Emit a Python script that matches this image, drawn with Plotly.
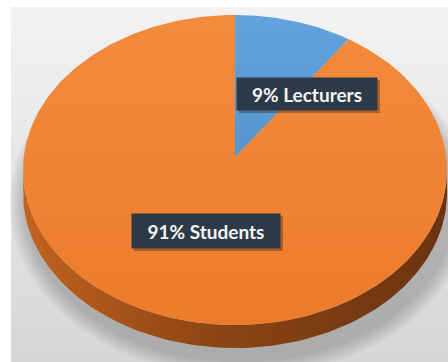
import numpy as np
import plotly.graph_objects as go

# Share of participants
categories = ["Lecturers", "Students"]
shares = [9, 91]
top_colors = [("#63a3dc", "#5695d0"), ("#f38b3c", "#ec7c2c")]
side_colors = ["#3f6f9c", None]

W, H = 448, 362
cx, cy, rx, ry = 235.0, 170.0, 212.0, 155.0
depth = 23.0
apex_lift = 13.0

fig = go.Figure()

# panel background (y axis runs downward, so colorscale 0 is the bottom)
fig.add_trace(go.Scatter(
    x=[11, W, W, 11, 11], y=[7, 7, H, H, 7], mode="lines", line=dict(width=0),
    fill="toself", fillgradient=dict(type="vertical",
                                     colorscale=[[0, "#d6d6d6"], [1, "#f3f3f3"]]),
    hoverinfo="skip", showlegend=False))

# soft shadow under the disc
tt = np.linspace(0, 2 * np.pi, 240)
for k in range(8):
    g = 4 + 2.2 * k
    fig.add_trace(go.Scatter(
        x=cx + 6 + (rx + g) * np.cos(tt), y=cy + depth + 10 + (ry + g) * np.sin(tt),
        mode="lines", line=dict(width=0), fill="toself",
        fillcolor="rgba(90,90,90,0.05)", hoverinfo="skip", showlegend=False))

fracs = np.array(shares, dtype=float) / np.sum(shares)
starts = -np.pi / 2 + 2 * np.pi * np.concatenate([[0], np.cumsum(fracs)[:-1]])
ends = starts + 2 * np.pi * fracs

# front rim of each slice
for i, (t0, t1) in enumerate(zip(starts, ends)):
    pieces = []
    for off in (0.0, 2 * np.pi, -2 * np.pi):
        a, b = max(t0 + off, 0.0), min(t1 + off, np.pi)
        if b > a:
            pieces.append((a, b))
    for a, b in pieces:
        t = np.linspace(a, b, 120)
        xs = np.concatenate([cx + rx * np.cos(t), cx + rx * np.cos(t[::-1])])
        ys = np.concatenate([cy + ry * np.sin(t), cy + depth + ry * np.sin(t[::-1])])
        if side_colors[i] is None:
            grad = dict(type="horizontal",
                        colorscale=[[0, "#c2621f"], [0.45, "#8c4514"], [1, "#6a3410"]])
            fig.add_trace(go.Scatter(x=xs, y=ys, mode="lines", line=dict(width=0),
                                     fill="toself", fillgradient=grad,
                                     hoverinfo="skip", showlegend=False))
        else:
            fig.add_trace(go.Scatter(x=xs, y=ys, mode="lines", line=dict(width=0),
                                     fill="toself", fillcolor=side_colors[i],
                                     hoverinfo="skip", showlegend=False))

# top faces
for i, (t0, t1) in enumerate(zip(starts, ends)):
    t = np.linspace(t0, t1, 300)
    xs = np.concatenate([[cx], cx + rx * np.cos(t), [cx]])
    ys = np.concatenate([[cy - apex_lift], cy + ry * np.sin(t), [cy - apex_lift]])
    c0, c1 = top_colors[i]
    fig.add_trace(go.Scatter(
        x=xs, y=ys, mode="lines", line=dict(width=0), fill="toself",
        fillgradient=dict(type="vertical", colorscale=[[0, c1], [1, c0]]),
        name=categories[i], hoverinfo="skip", showlegend=False))

# data labels with a soft drop shadow behind each box
pad = 6
label_pos = [(307, 94, 128, 20), (206, 231, 136, 22)]
for (name, share), (lx, ly, w, h) in zip(zip(categories, shares), label_pos):
    hw, hh = w / 2 + pad, h / 2 + pad
    fig.add_shape(type="rect", xref="x", yref="y",
                  x0=lx - hw + 2, x1=lx + hw + 3, y0=ly - hh + 2, y1=ly + hh + 3,
                  line=dict(width=0), fillcolor="rgba(60,25,5,0.35)", layer="above")
    fig.add_annotation(x=lx, y=ly, xref="x", yref="y", text=f"<b>{share}% {name}</b>",
                       showarrow=False,
                       font=dict(family="Lato", size=19, color="#f4f4f4"),
                       bgcolor="#2c3a48", borderpad=pad, width=w, height=h)

fig.update_layout(
    width=W, height=H, margin=dict(l=0, r=0, t=0, b=0),
    paper_bgcolor="white", plot_bgcolor="white",
    xaxis=dict(range=[0, W], visible=False, fixedrange=True),
    yaxis=dict(range=[H, 0], visible=False, fixedrange=True),
    showlegend=False,
)

fig.write_html("out.html")
